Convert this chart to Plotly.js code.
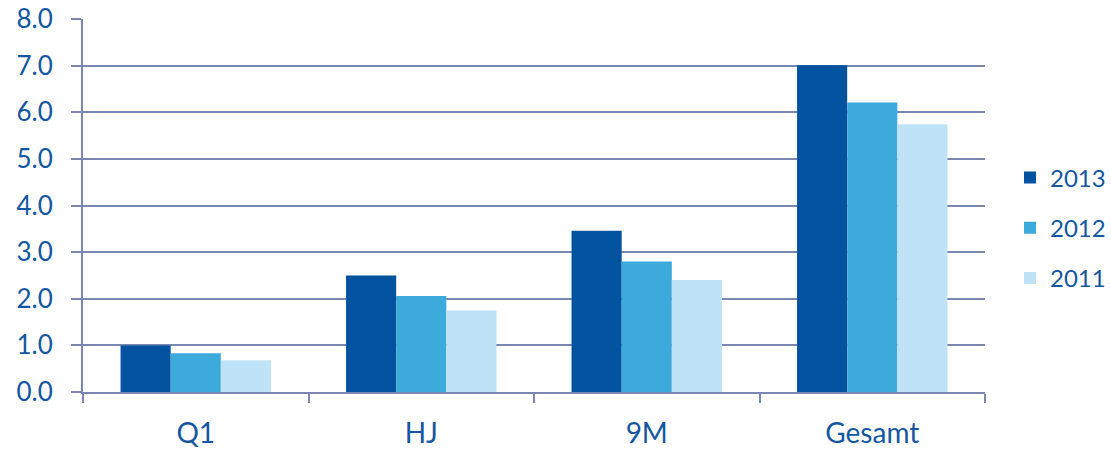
<!DOCTYPE html>
<html>
<head>
<meta charset="utf-8">
<script src="https://cdn.plot.ly/plotly-3.0.1.min.js"></script>
<style>html,body{margin:0;padding:0;background:#fff;}#chart{width:1111px;height:449px;}</style>
</head>
<body>
<div id="chart"></div>
<script>
const categories = ["Q1", "HJ", "9M", "Gesamt"];
const seriesNames = ["2013", "2012", "2011"];
const values2013 = [1.00, 2.50, 3.46, 7.01];
const values2012 = [0.83, 2.06, 2.80, 6.21];
const values2011 = [0.68, 1.75, 2.40, 5.74];
const yTickVals = [0, 1, 2, 3, 4, 5, 6, 7, 8];
const yTickText = ["0.0", "1.0", "2.0", "3.0", "4.0", "5.0", "6.0", "7.0", "8.0"];

const colors = ["#01539F", "#3DAADC", "#BFE3F6"];
const textColor = "#1457A0";
const gridColor = "#7B87B3";
const font = "Lato, 'Open Sans', sans-serif";

const allValues = [values2013, values2012, values2011];
const traces = seriesNames.map((name, i) => ({
  type: "bar",
  name: name,
  x: categories,
  y: allValues[i],
  legendgroup: name,
  marker: {color: colors[i], line: {width: 0}},
  hoverinfo: "x+y+name"
}));

const layout = {
  width: 1111,
  height: 449,
  margin: {l: 83, r: 126, t: 19, b: 57, autoexpand: false},
  paper_bgcolor: "#fff",
  plot_bgcolor: "#fff",
  barmode: "group",
  bargap: 0.333,
  bargroupgap: 0,
  font: {family: font, color: textColor, size: 26},
  xaxis: {
    type: "category",
    showgrid: false,
    showline: true,
    linecolor: gridColor,
    linewidth: 2,
    ticks: "outside",
    tickson: "boundaries",
    ticklen: 9,
    tickwidth: 2,
    tickcolor: gridColor,
    tickfont: {family: font, color: textColor, size: 28},
    ticklabelstandoff: 15,
    zeroline: false,
    automargin: false
  },
  yaxis: {
    range: [0, 8],
    tickvals: yTickVals,
    ticktext: yTickText,
    showgrid: true,
    gridcolor: gridColor,
    gridwidth: 2,
    showline: true,
    linecolor: gridColor,
    linewidth: 2,
    ticks: "outside",
    ticklen: 10,
    tickwidth: 2,
    tickcolor: gridColor,
    tickfont: {family: font, color: textColor, size: 26},
    ticklabelstandoff: 13,
    zeroline: false,
    fixedrange: true,
    automargin: false
  },
  showlegend: true,
  legend: {
    xref: "container",
    yref: "container",
    x: 1010 / 1111,
    xanchor: "left",
    y: 1 - 228 / 449,
    yanchor: "middle",
    font: {family: font, color: textColor, size: 24},
    tracegroupgap: 16,
    itemwidth: 30,
    borderwidth: 0,
    bgcolor: "rgba(0,0,0,0)"
  }
};

Plotly.newPlot("chart", traces, layout, {displayModeBar: false, staticPlot: true});
</script>
</body>
</html>
